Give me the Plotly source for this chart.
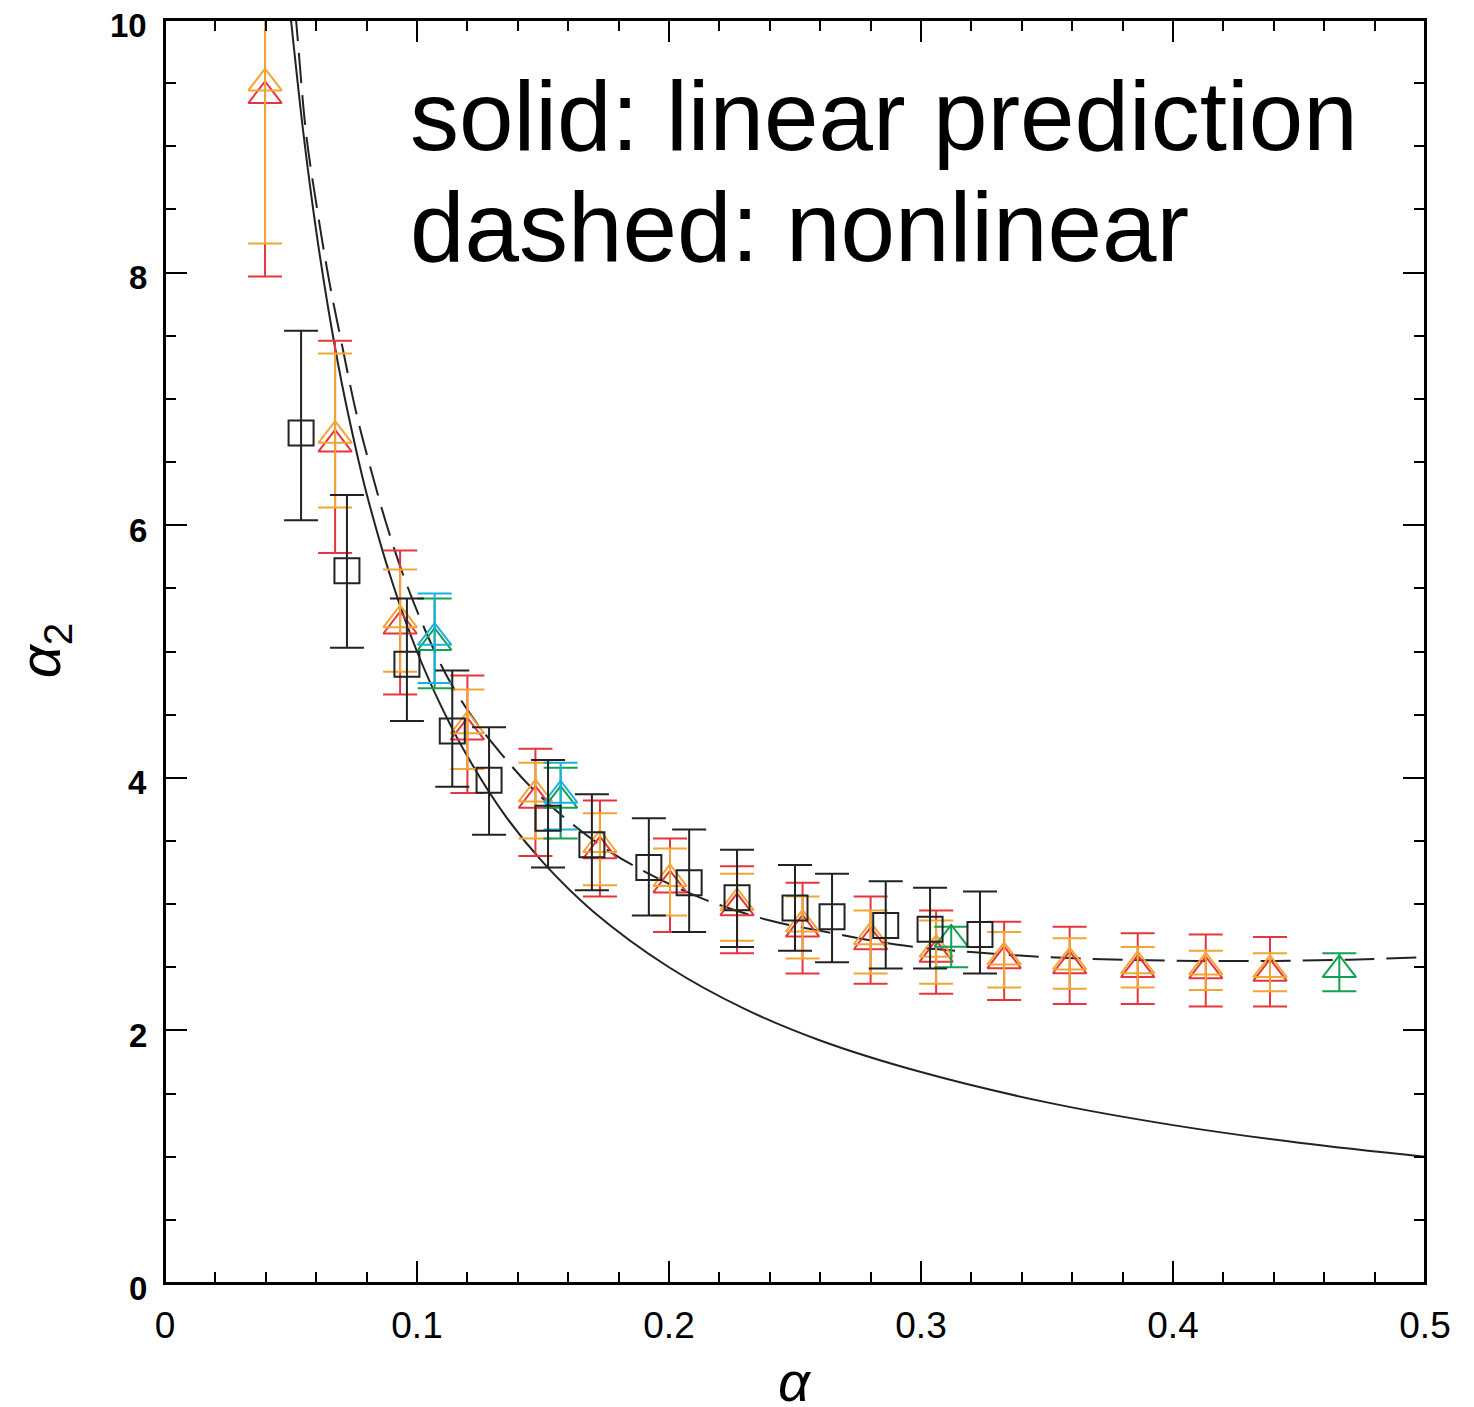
import plotly.graph_objects as go

# ---- theory curves ----
solid_x = [0.048, 0.050, 0.055, 0.060, 0.065, 0.070, 0.075, 0.080, 0.090, 0.100, 0.110, 0.120, 0.135,
           0.150, 0.170, 0.200, 0.230, 0.260, 0.300, 0.350, 0.400, 0.450, 0.500]
solid_y = [10.4, 10.0, 9.09, 8.33, 7.69, 7.14, 6.67, 6.25, 5.56, 5.00, 4.55, 4.17, 3.70,
           3.33, 2.94, 2.50, 2.17, 1.92, 1.67, 1.43, 1.25, 1.11, 1.00]

dash_x = [0.050, 0.052, 0.056, 0.060, 0.065, 0.070, 0.076, 0.082, 0.088, 0.095, 0.103, 0.112, 0.122,
          0.133, 0.145, 0.160, 0.177, 0.195, 0.215, 0.240, 0.265, 0.290, 0.320, 0.350, 0.380,
          0.410, 0.440, 0.470, 0.500]
dash_y = [10.4, 10.0, 9.1, 8.55, 7.95, 7.45, 6.88, 6.42, 6.0, 5.58, 5.18, 4.80, 4.48,
          4.20, 3.93, 3.66, 3.41, 3.21, 3.03, 2.87, 2.77, 2.68, 2.62, 2.58, 2.56,
          2.55, 2.55, 2.56, 2.58]

# ---- black squares ----
sq_x = [0.054, 0.0722, 0.096, 0.114, 0.1286, 0.152, 0.1694, 0.192, 0.208, 0.227, 0.250, 0.2647, 0.286, 0.3036, 0.3234]
sq_y = [6.73, 5.64, 4.90, 4.37, 3.98, 3.68, 3.47, 3.29, 3.17, 3.05, 2.97, 2.90, 2.83, 2.80, 2.76]
sq_hi = [7.54, 6.24, 5.42, 4.85, 4.40, 4.14, 3.87, 3.68, 3.59, 3.43, 3.31, 3.24, 3.18, 3.13, 3.10]
sq_lo = [6.04, 5.03, 4.45, 3.93, 3.55, 3.29, 3.11, 2.91, 2.78, 2.66, 2.63, 2.54, 2.49, 2.49, 2.45]

# ---- red / orange triangles ----
tri_x = [0.0397, 0.0675, 0.0933, 0.120, 0.147, 0.1726, 0.2004, 0.227, 0.253, 0.280, 0.306, 0.333,
         0.359, 0.386, 0.413, 0.4385]
red_y = [9.40, 6.64, 5.20, 4.36, 3.82, 3.42, 3.15, 2.97, 2.80, 2.70, 2.60, 2.55, 2.51, 2.48, 2.47, 2.45]
red_hi = [10.8, 7.46, 5.80, 4.81, 4.23, 3.82, 3.52, 3.30, 3.17, 3.06, 2.95, 2.86, 2.82, 2.77, 2.76, 2.74]
red_lo = [7.97, 5.78, 4.66, 3.88, 3.38, 3.06, 2.78, 2.61, 2.45, 2.37, 2.29, 2.24, 2.21, 2.21, 2.19, 2.19]
orange_y = [9.50, 6.71, 5.25, 4.41, 3.87, 3.47, 3.20, 3.01, 2.84, 2.74, 2.64, 2.58, 2.54, 2.51, 2.50, 2.48]
orange_hi = [10.8, 7.36, 5.65, 4.70, 4.12, 3.72, 3.44, 3.24, 3.06, 2.95, 2.87, 2.78, 2.73, 2.66, 2.63, 2.61]
orange_lo = [8.23, 6.14, 4.84, 4.07, 3.52, 3.15, 2.91, 2.71, 2.57, 2.45, 2.37, 2.34, 2.33, 2.34, 2.32, 2.31]

# ---- cyan / green triangles ----
cyan_x = [0.107, 0.157]
cyan_y = [5.11, 3.86]
cyan_hi = [5.46, 4.12]
cyan_lo = [4.75, 3.59]
green_x = [0.107, 0.157, 0.312, 0.466]
green_y = [5.07, 3.82, 2.72, 2.48]
green_hi = [5.42, 4.08, 2.82, 2.61]
green_lo = [4.71, 3.52, 2.50, 2.31]

# ---- tick labels ----
x_tick_vals = [0, 0.1, 0.2, 0.3, 0.4, 0.5]
x_tick_text = ["0", "0.1", "0.2", "0.3", "0.4", "0.5"]
y_tick_vals = [0, 2, 4, 6, 8, 10]
y_tick_text = ["0", "2", "4", "6", "8", "10"]

RED = "#e5353f"
ORANGE = "#f0a534"
CYAN = "#1ab0e2"
GREEN = "#14a050"
BLACK = "#222222"


def err_trace(x, y, hi, lo, color, symbol, size):
    return go.Scatter(
        x=x, y=y, mode="markers",
        marker=dict(symbol=symbol, size=size, color=color,
                    line=dict(color=color, width=2)),
        error_y=dict(type="data", symmetric=False,
                     array=[h - v for h, v in zip(hi, y)],
                     arrayminus=[v - l for v, l in zip(y, lo)],
                     color=color, thickness=2, width=17),
        showlegend=False,
    )


fig = go.Figure()
fig.add_trace(go.Scatter(x=solid_x, y=solid_y, mode="lines",
                         line=dict(color=BLACK, width=2, shape="spline"), showlegend=False))
fig.add_trace(go.Scatter(x=dash_x, y=dash_y, mode="lines",
                         line=dict(color=BLACK, width=2, shape="spline", dash="30px,12px"),
                         showlegend=False))
fig.add_trace(err_trace(tri_x, red_y, red_hi, red_lo, RED, "triangle-up-open", 29))
fig.add_trace(err_trace(tri_x, orange_y, orange_hi, orange_lo, ORANGE, "triangle-up-open", 29))
fig.add_trace(err_trace(green_x, green_y, green_hi, green_lo, GREEN, "triangle-up-open", 29))
fig.add_trace(err_trace(cyan_x, cyan_y, cyan_hi, cyan_lo, CYAN, "triangle-up-open", 29))
fig.add_trace(err_trace(sq_x, sq_y, sq_hi, sq_lo, BLACK, "square-open", 25))

axis_common = dict(showline=True, linecolor="black", linewidth=2, mirror="ticks",
                   ticks="inside", tickcolor="black", tickwidth=1.5, ticklen=22,
                   showgrid=False, zeroline=False, automargin=False,
                   ticklabeloverflow="allow")

fig.update_xaxes(range=[0, 0.5], tickvals=x_tick_vals, ticktext=x_tick_text,
                 tickfont=dict(family="Liberation Sans Narrow, Liberation Sans, sans-serif",
                               size=37, color="black"),
                 ticklabelstandoff=9,
                 minor=dict(dtick=0.02, ticks="inside", ticklen=11, tickcolor="black",
                            tickwidth=1.5, showgrid=False),
                 **axis_common)
fig.update_yaxes(range=[0, 10], tickvals=y_tick_vals, showticklabels=False,
                 minor=dict(dtick=0.5, ticks="inside", ticklen=11, tickcolor="black",
                            tickwidth=1.5, showgrid=False),
                 **axis_common)

# y tick labels (drawn slightly below their ticks, as in the original)
for v, t in zip(y_tick_vals, y_tick_text):
    fig.add_annotation(x=0, y=v, xref="paper", yref="y", xanchor="right", yanchor="middle",
                       xshift=-16, yshift=-5, text=t, showarrow=False,
                       font=dict(family="Liberation Sans, sans-serif", size=33, color="black",
                                 weight="bold"))

# frame around the plotting area
fig.add_shape(type="rect", xref="paper", yref="paper", x0=0, x1=1, y0=0, y1=1,
              line=dict(color="black", width=2), fillcolor="rgba(0,0,0,0)", layer="above")

fig.add_annotation(x=0.0964, y=9.24, xref="x", yref="y", xanchor="left", yanchor="middle",
                   text="solid: linear prediction", showarrow=False,
                   font=dict(family="Liberation Sans, sans-serif", size=98, color="black"))
fig.add_annotation(x=0.0964, y=8.36, xref="x", yref="y", xanchor="left", yanchor="middle",
                   text="dashed: nonlinear", showarrow=False,
                   font=dict(family="Liberation Sans, sans-serif", size=98, color="black"))

fig.add_annotation(x=0.5, y=-0.078, xref="paper", yref="paper", xanchor="center", yanchor="middle",
                   text="<i>α</i>", showarrow=False,
                   font=dict(family="Liberation Sans, sans-serif", size=56, color="black"))
fig.add_annotation(x=-0.096, y=0.501, xref="paper", yref="paper", xanchor="center", yanchor="middle",
                   text="<i>α</i><sub>2</sub>", showarrow=False, textangle=-90,
                   font=dict(family="Liberation Sans, sans-serif", size=58, color="black"))

# page body has an 8px margin, so the figure is shifted by 8px
fig.update_layout(width=1466, height=1399, margin=dict(l=157, r=49, t=12, b=124),
                  paper_bgcolor="white", plot_bgcolor="white")

fig.write_html("out.html")
